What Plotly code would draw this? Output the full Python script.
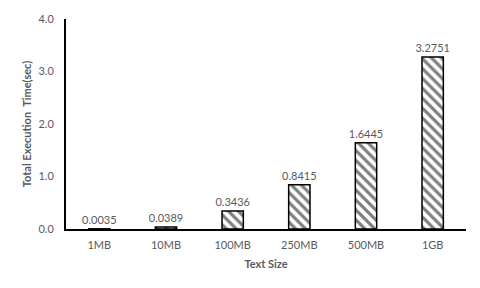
import plotly.graph_objects as go

categories = ["1MB", "10MB", "100MB", "250MB", "500MB", "1GB"]
times = [0.0035, 0.0389, 0.3436, 0.8415, 1.6445, 3.2751]
labels = ["0.0035", "0.0389", "0.3436", "0.8415", "1.6445", "3.2751"]

gray = "#595959"
font_family = "Lato, Open Sans, sans-serif"

fig = go.Figure(go.Bar(
    x=categories, y=times,
    text=labels, textposition="outside", constraintext="none",
    textfont=dict(size=11, color=gray, family=font_family),
    cliponaxis=False,
    marker=dict(
        color="white",
        line=dict(color="black", width=1.5),
        pattern=dict(shape="\\", fgcolor="black", bgcolor="white", size=7, solidity=0.45),
    ),
))

fig.update_layout(
    width=480, height=288,
    margin=dict(l=66, r=14, t=15, b=59),
    paper_bgcolor="white", plot_bgcolor="white",
    bargap=0.68,
    showlegend=False,
    font=dict(family=font_family, color=gray, size=11),
    xaxis=dict(
        title=dict(text="<b>Text Size</b>", font=dict(size=11, color=gray), standoff=10),
        showline=True, linecolor="black", linewidth=2,
        ticks="", ticklabelstandoff=5,
        tickfont=dict(size=11, color=gray, family=font_family),
        showgrid=False,
    ),
    yaxis=dict(
        title=dict(text="<b>Total Execution  Time(sec)</b>", font=dict(size=11, color=gray), standoff=5),
        range=[0, 4.0], dtick=1.0, tickformat=".1f",
        showline=True, linecolor="black", linewidth=2,
        ticks="", ticklabelstandoff=8, showgrid=False, zeroline=False,
        tickfont=dict(size=11, color=gray, family=font_family),
    ),
)

fig.write_html("out.html")
